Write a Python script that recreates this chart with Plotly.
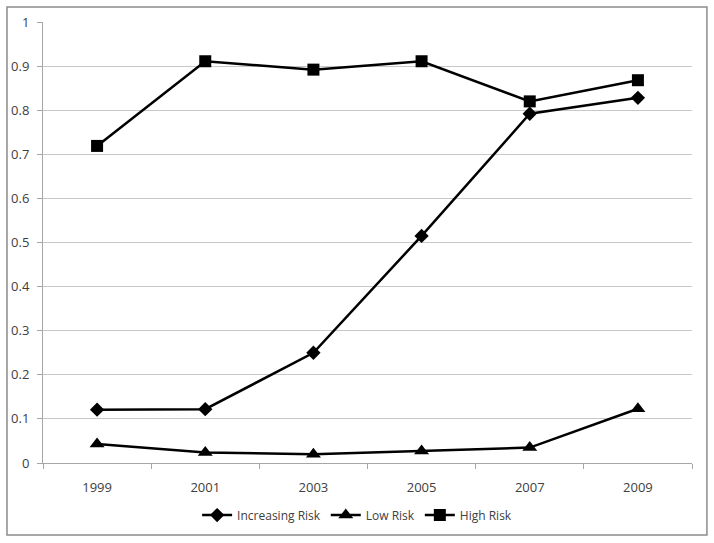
import plotly.graph_objects as go

years = ["1999", "2001", "2003", "2005", "2007", "2009"]
increasing_risk = [0.121, 0.122, 0.250, 0.515, 0.792, 0.828]
low_risk = [0.043, 0.024, 0.020, 0.027, 0.035, 0.123]
high_risk = [0.719, 0.911, 0.892, 0.911, 0.820, 0.868]
y_ticks = [0, 0.1, 0.2, 0.3, 0.4, 0.5, 0.6, 0.7, 0.8, 0.9, 1]
y_labels = ["0", "0.1", "0.2", "0.3", "0.4", "0.5", "0.6", "0.7", "0.8", "0.9", "1"]

FONT = "Open Sans"

fig = go.Figure()
series = [
    ("Increasing Risk", increasing_risk, "diamond", 11),
    ("Low Risk", low_risk, "triangle-up", 13),
    ("High Risk", high_risk, "square", 12),
]
for name, vals, sym, sz in series:
    fig.add_trace(go.Scatter(
        x=years, y=vals, name=name, mode="lines+markers",
        line=dict(color="black", width=2.5),
        marker=dict(symbol=sym, size=sz, color="black"),
    ))

fig.update_layout(
    width=714, height=543,
    margin=dict(l=43, r=22, t=22, b=80, autoexpand=False),
    paper_bgcolor="white", plot_bgcolor="white",
    font=dict(family=FONT, size=12, color="#404040"),
    showlegend=True,
    legend=dict(orientation="h", x=0.484, xanchor="center", y=-0.118, yanchor="middle",
                font=dict(family=FONT, size=12, color="#404040"),
                itemwidth=30, tracegroupgap=0),
    shapes=[dict(type="rect", xref="paper", yref="paper",
                 x0=-0.0555, x1=1.023, y0=-0.163, y1=1.034,
                 line=dict(color="#8c8c8c", width=1.5), fillcolor="rgba(0,0,0,0)",
                 layer="below")],
)
fig.update_xaxes(
    type="category", range=[-0.5, 5.5], automargin=False,
    showgrid=False, showline=True, linecolor="#a6a6a6", linewidth=1,
    ticks="outside", tickson="boundaries", ticklen=5, tickcolor="#a6a6a6",
    ticklabelstandoff=12,
    tickfont=dict(family=FONT, size=13, color="#404040"),
)
fig.update_yaxes(
    range=[0, 1], tickvals=y_ticks, ticktext=y_labels, automargin=False,
    showgrid=True, gridcolor="#c8c8c8", gridwidth=1,
    showline=True, linecolor="#a6a6a6", linewidth=1,
    ticks="outside", ticklen=5, tickcolor="#a6a6a6",
    ticklabelstandoff=5,
    zeroline=False,
    tickfont=dict(family=FONT, size=13, color="#404040"),
)

fig.write_html("out.html", config={"displayModeBar": False},
               post_script="document.body.style.margin='0';")
